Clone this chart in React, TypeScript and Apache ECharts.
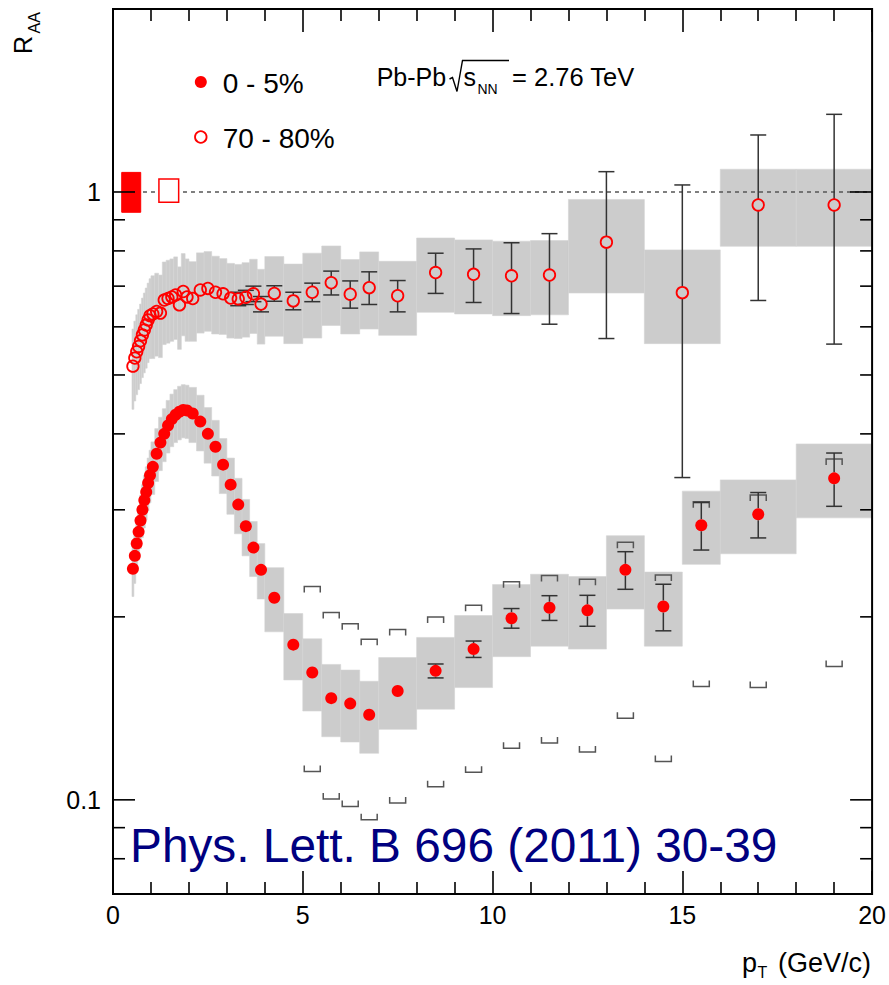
import React, { useEffect, useRef } from "react";
import * as echarts from "echarts";

const FONT = "'Liberation Sans', Arial, Helvetica, sans-serif";

// ---- 0-5% (central) ----
const ptCentral = [
  0.525, 0.575, 0.625, 0.675, 0.725, 0.775, 0.825, 0.875, 0.925, 0.975,
  1.05, 1.15, 1.25, 1.35, 1.45, 1.55, 1.65, 1.75, 1.85, 1.95,
  2.1, 2.3, 2.5, 2.7, 2.9, 3.1, 3.3, 3.5, 3.7, 3.9,
  4.25, 4.75, 5.25, 5.75, 6.25, 6.75, 7.5, 8.5, 9.5, 10.5, 11.5, 12.5, 13.5, 14.5, 15.5, 17, 19,
];
const binWidthCentral = [
  0.05, 0.05, 0.05, 0.05, 0.05, 0.05, 0.05, 0.05, 0.05, 0.05,
  0.1, 0.1, 0.1, 0.1, 0.1, 0.1, 0.1, 0.1, 0.1, 0.1,
  0.2, 0.2, 0.2, 0.2, 0.2, 0.2, 0.2, 0.2, 0.2, 0.2,
  0.5, 0.5, 0.5, 0.5, 0.5, 0.5, 1, 1, 1, 1, 1, 1, 1, 1, 1, 2, 2,
];
const raaCentral = [
  0.240, 0.252, 0.264, 0.276, 0.288, 0.300, 0.311, 0.321, 0.332, 0.342,
  0.353, 0.371, 0.387, 0.400, 0.413, 0.423, 0.430, 0.435, 0.438, 0.437,
  0.432, 0.419, 0.400, 0.381, 0.356, 0.330, 0.306, 0.282, 0.260, 0.239,
  0.215, 0.180, 0.162, 0.147, 0.144, 0.138, 0.151, 0.163, 0.177, 0.199, 0.207, 0.205, 0.239, 0.208, 0.283, 0.295, 0.338,
];
const statCentral = [
  0.002, 0.002, 0.002, 0.002, 0.002, 0.002, 0.002, 0.002, 0.002, 0.002,
  0.002, 0.002, 0.002, 0.002, 0.002, 0.002, 0.002, 0.002, 0.002, 0.002,
  0.002, 0.002, 0.002, 0.002, 0.002, 0.002, 0.002, 0.002, 0.002, 0.002,
  0.002, 0.002, 0.002, 0.002, 0.0025, 0.003, 0.003, 0.0043, 0.0055, 0.0074, 0.0097, 0.012, 0.017, 0.0183, 0.0254, 0.0253, 0.034,
];
const sysCentral = [
  0.024, 0.025, 0.026, 0.028, 0.029, 0.030, 0.031, 0.032, 0.033, 0.034,
  0.035, 0.037, 0.039, 0.040, 0.041, 0.042, 0.043, 0.044, 0.044, 0.044,
  0.045, 0.044, 0.042, 0.040, 0.037, 0.035, 0.032, 0.030, 0.027, 0.025,
  0.026, 0.0225, 0.022, 0.020, 0.0195, 0.0187, 0.0204, 0.022, 0.024, 0.027, 0.028, 0.028, 0.033, 0.029, 0.039, 0.041, 0.047,
];

// ---- 70-80% (peripheral) ----
const ptPeripheral = [
  0.525, 0.575, 0.625, 0.675, 0.725, 0.775, 0.825, 0.875, 0.925, 0.975,
  1.05, 1.15, 1.25, 1.35, 1.45, 1.55, 1.65, 1.75, 1.85, 1.95,
  2.1, 2.3, 2.5, 2.7, 2.9, 3.1, 3.3, 3.5, 3.7, 3.9,
  4.25, 4.75, 5.25, 5.75, 6.25, 6.75, 7.5, 8.5, 9.5, 10.5, 11.5, 13, 15, 17, 19,
];
const binWidthPeripheral = [
  0.05, 0.05, 0.05, 0.05, 0.05, 0.05, 0.05, 0.05, 0.05, 0.05,
  0.1, 0.1, 0.1, 0.1, 0.1, 0.1, 0.1, 0.1, 0.1, 0.1,
  0.2, 0.2, 0.2, 0.2, 0.2, 0.2, 0.2, 0.2, 0.2, 0.2,
  0.5, 0.5, 0.5, 0.5, 0.5, 0.5, 1, 1, 1, 1, 1, 2, 2, 2, 2,
];
const raaPeripheral = [
  0.517, 0.533, 0.546, 0.557, 0.569, 0.582, 0.593, 0.604, 0.616, 0.626,
  0.630, 0.636, 0.632, 0.664, 0.668, 0.672, 0.677, 0.652, 0.686, 0.672,
  0.668, 0.690, 0.694, 0.684, 0.680, 0.669, 0.667, 0.671, 0.680, 0.654,
  0.681, 0.662, 0.684, 0.709, 0.679, 0.696, 0.675, 0.737, 0.732, 0.728, 0.730, 0.827, 0.683, 0.952, 0.952,
];
const statPeripheral = [
  0.004, 0.004, 0.004, 0.004, 0.004, 0.004, 0.004, 0.004, 0.004, 0.004,
  0.005, 0.005, 0.005, 0.005, 0.005, 0.005, 0.005, 0.005, 0.005, 0.005,
  0.006, 0.006, 0.007, 0.008, 0.009, 0.016, 0.017, 0.018, 0.02, 0.019,
  0.02, 0.022, 0.024, 0.032, 0.035, 0.043, 0.040, 0.056, 0.074, 0.097, 0.124, 0.253, 0.344, 0.289, 0.39,
];
const sysPeripheral = [
  0.078, 0.080, 0.082, 0.084, 0.085, 0.087, 0.089, 0.091, 0.092, 0.094,
  0.098, 0.099, 0.098, 0.103, 0.104, 0.104, 0.105, 0.101, 0.106, 0.104,
  0.100, 0.104, 0.104, 0.100, 0.097, 0.094, 0.093, 0.094, 0.095, 0.092,
  0.102, 0.099, 0.109, 0.106, 0.095, 0.101, 0.094, 0.103, 0.102, 0.102, 0.102, 0.145, 0.120, 0.138, 0.138,
];

// ---- brackets (0-5%, upper / lower limits) ----
const bracketPt = [5.25, 5.75, 6.25, 6.75, 7.5, 8.5, 9.5, 10.5, 11.5, 12.5, 13.5, 14.5, 15.5, 17, 19];
const bracketHigh = [0.2243, 0.2033, 0.1948, 0.1837, 0.1907, 0.1998, 0.209, 0.2284, 0.2339, 0.2307, 0.2653, 0.2344, 0.3094, 0.3173, 0.3638];
const bracketLow = [0.1113, 0.1003, 0.0975, 0.0927, 0.0988, 0.1051, 0.111, 0.1216, 0.124, 0.1199, 0.1362, 0.1156, 0.1536, 0.153, 0.1657];

// ---- normalisation boxes at R_AA = 1 ----
const normCenter = [0.48, 1.47];
const normHalfWidth = [0.25, 0.26];
const normLow = [0.926, 0.962];
const normHigh = [1.077, 1.05];
const normFilled = [1, 0];

// ---- reference line ----
const refLineFrom = 0.79;
const refLineTo = 20;
const refLineValue = 1;

// ---- axis ticks ----
const yMajorTicks = [0.1, 1];
const yTickLabels = ["0.1", "1"];
const yMinorTicks = [0.08, 0.09, 0.2, 0.3, 0.4, 0.5, 0.6, 0.7, 0.8, 0.9];

const MARKER_R = 6;
const RED = "#ff0000";

const boxRender = (params: any, api: any) => {
  const x = api.value(0), w = api.value(1), y = api.value(2), s = api.value(3);
  const a = api.coord([x - w / 2, y + s]);
  const b = api.coord([x + w / 2, y - s]);
  return {
    type: "rect",
    shape: { x: a[0], y: a[1], width: b[0] - a[0], height: b[1] - a[1] },
    style: { fill: "#cccccc", stroke: "#d4d4d4", lineWidth: 0.6 },
  };
};

const errRender = (params: any, api: any) => {
  const x = api.value(0), y = api.value(1), e = api.value(2);
  const c = api.coord([x, y]);
  const t = api.coord([x, y + e]);
  const b = api.coord([x, y - e]);
  const st = { stroke: "#333333", lineWidth: 1.5 };
  const cap = 8;
  const children: any[] = [];
  if (c[1] - t[1] > MARKER_R + 0.5) {
    children.push({ type: "line", shape: { x1: c[0], y1: t[1], x2: c[0], y2: c[1] - MARKER_R }, style: st });
    children.push({ type: "line", shape: { x1: c[0] - cap, y1: t[1], x2: c[0] + cap, y2: t[1] }, style: st });
  }
  if (b[1] - c[1] > MARKER_R + 0.5) {
    children.push({ type: "line", shape: { x1: c[0], y1: c[1] + MARKER_R, x2: c[0], y2: b[1] }, style: st });
    children.push({ type: "line", shape: { x1: c[0] - cap, y1: b[1], x2: c[0] + cap, y2: b[1] }, style: st });
  }
  return { type: "group", children };
};

const bracketRender = (params: any, api: any) => {
  const x = api.value(0), hi = api.value(1), lo = api.value(2);
  const h = api.coord([x, hi]);
  const l = api.coord([x, lo]);
  const hw = 8, leg = 6;
  const st = { stroke: "#555555", lineWidth: 1.5, fill: "none" };
  return {
    type: "group",
    children: [
      { type: "polyline", shape: { points: [[h[0] - hw, h[1] + leg], [h[0] - hw, h[1]], [h[0] + hw, h[1]], [h[0] + hw, h[1] + leg]] }, style: st },
      { type: "polyline", shape: { points: [[l[0] - hw, l[1] - leg], [l[0] - hw, l[1]], [l[0] + hw, l[1]], [l[0] + hw, l[1] - leg]] }, style: st },
    ],
  };
};

const normRender = (params: any, api: any) => {
  const c = api.value(0), hw = api.value(1), lo = api.value(2), hi = api.value(3), filled = api.value(4);
  const a = api.coord([c - hw, hi]);
  const b = api.coord([c + hw, lo]);
  return {
    type: "rect",
    shape: { x: a[0], y: a[1], width: b[0] - a[0], height: b[1] - a[1] },
    style: filled ? { fill: RED, stroke: RED, lineWidth: 1 } : { fill: "#ffffff", stroke: RED, lineWidth: 1.5 },
  };
};

const refLineRender = (params: any, api: any) => {
  const a = api.coord([api.value(0), api.value(2)]);
  const b = api.coord([api.value(1), api.value(2)]);
  return {
    type: "line",
    shape: { x1: a[0], y1: a[1], x2: b[0], y2: b[1] },
    style: { stroke: "#555555", lineWidth: 1.5, lineDash: [4, 4] },
  };
};

const tickRender = (params: any, api: any) => {
  const v = api.value(1), major = api.value(2);
  const cs = params.coordSys;
  const p = api.coord([0, v]);
  const len = major ? 22 : 12;
  const st = { stroke: "#000", lineWidth: 1.6 };
  return {
    type: "group",
    children: [
      { type: "line", shape: { x1: cs.x, y1: p[1], x2: cs.x + len, y2: p[1] }, style: st },
      { type: "line", shape: { x1: cs.x + cs.width, y1: p[1], x2: cs.x + cs.width - len, y2: p[1] }, style: st },
    ],
  };
};

const labelRender = (params: any, api: any) => {
  const v = api.value(1), idx = api.value(2);
  const cs = params.coordSys;
  const p = api.coord([0, v]);
  return {
    type: "text",
    x: cs.x - 12,
    y: p[1],
    style: { text: yTickLabels[idx], align: "right", verticalAlign: "middle", fontSize: 25, fontFamily: FONT, fill: "#000" },
  };
};

const frameRender = (params: any, api: any) => {
  const cs = params.coordSys;
  return {
    type: "rect",
    shape: { x: cs.x, y: cs.y, width: cs.width, height: cs.height },
    style: { fill: "none", stroke: "#000", lineWidth: 2 },
  };
};

const txt = (text: string, x: number, y: number, size: number, extra: any = {}) => ({
  type: "text",
  x,
  y,
  ...extra,
  style: { text, fontSize: size, fontFamily: FONT, fill: extra.fill || "#000", align: "left", verticalAlign: "middle" },
});

export default function App() {
  const ref = useRef<HTMLDivElement>(null);
  useEffect(() => {
    const chart = echarts.init(ref.current!, null, { renderer: "svg" });
    const axisCommon = {
      type: "value",
      min: 0,
      max: 20,
      interval: 5,
      axisLine: { show: false },
      axisTick: { show: true, inside: true, length: 23, lineStyle: { color: "#000", width: 1.6 } },
      minorTick: { show: true, splitNumber: 5, length: 12, lineStyle: { color: "#000", width: 1.6 } },
      splitLine: { show: false },
      minorSplitLine: { show: false },
    };
    const option: any = {
      animation: false,
      backgroundColor: "#ffffff",
      grid: { left: 113, right: 16, top: 9, bottom: 91, show: false },
      xAxis: [
        {
          ...axisCommon,
          position: "bottom",
          axisLabel: { show: true, fontSize: 25, fontFamily: FONT, color: "#000", margin: 8 },
        },
        { ...axisCommon, position: "top", axisLabel: { show: false } },
      ],
      yAxis: {
        type: "log",
        logBase: 10,
        min: 0.07,
        max: 2,
        axisLine: { show: false },
        axisTick: { show: false },
        minorTick: { show: false },
        axisLabel: { show: false },
        splitLine: { show: false },
      },
      series: [
        {
          type: "custom",
          name: "sys 70-80%",
          renderItem: boxRender,
          encode: { x: 0, y: 2 },
          data: ptPeripheral.map((p, i) => [p, binWidthPeripheral[i], raaPeripheral[i], sysPeripheral[i]]),
        },
        {
          type: "custom",
          name: "sys 0-5%",
          renderItem: boxRender,
          encode: { x: 0, y: 2 },
          data: ptCentral.map((p, i) => [p, binWidthCentral[i], raaCentral[i], sysCentral[i]]),
        },
        {
          type: "custom",
          name: "ref",
          renderItem: refLineRender,
          encode: { x: 0, y: 2 },
          data: [[refLineFrom, refLineTo, refLineValue]],
        },
        {
          type: "custom",
          name: "norm",
          renderItem: normRender,
          encode: { x: 0, y: 2 },
          data: normCenter.map((c, i) => [c, normHalfWidth[i], normLow[i], normHigh[i], normFilled[i]]),
        },
        {
          type: "custom",
          name: "brackets",
          renderItem: bracketRender,
          encode: { x: 0, y: 1 },
          data: bracketPt.map((p, i) => [p, bracketHigh[i], bracketLow[i]]),
        },
        {
          type: "custom",
          name: "stat 70-80%",
          renderItem: errRender,
          encode: { x: 0, y: 1 },
          data: ptPeripheral.map((p, i) => [p, raaPeripheral[i], statPeripheral[i]]),
        },
        {
          type: "custom",
          name: "stat 0-5%",
          renderItem: errRender,
          encode: { x: 0, y: 1 },
          data: ptCentral.map((p, i) => [p, raaCentral[i], statCentral[i]]),
        },
        {
          type: "scatter",
          name: "70 - 80%",
          symbol: "circle",
          symbolSize: 11.5,
          itemStyle: { color: "rgba(255,255,255,0)", borderColor: RED, borderWidth: 1.8, opacity: 1 },
          data: ptPeripheral.map((p, i) => [p, raaPeripheral[i]]),
        },
        {
          type: "scatter",
          name: "0 - 5%",
          symbol: "circle",
          symbolSize: 12,
          itemStyle: { color: RED, opacity: 1 },
          data: ptCentral.map((p, i) => [p, raaCentral[i]]),
        },
        {
          type: "custom",
          name: "yticks",
          renderItem: tickRender,
          encode: { x: 0, y: 1 },
          data: [...yMajorTicks.map((v) => [0, v, 1]), ...yMinorTicks.map((v) => [0, v, 0])],
        },
        {
          type: "custom",
          name: "ylabels",
          renderItem: labelRender,
          encode: { x: 0, y: 1 },
          data: yMajorTicks.map((v, i) => [0, v, i]),
        },
        {
          type: "custom",
          name: "frame",
          renderItem: frameRender,
          encode: { x: 0, y: 1 },
          data: [[0, 1]],
        },
      ],
      graphic: [
        { type: "circle", shape: { cx: 200.8, cy: 82, r: 6 }, style: { fill: RED } },
        { type: "circle", shape: { cx: 200.8, cy: 137, r: 5.8 }, style: { fill: "none", stroke: RED, lineWidth: 1.8 } },
        txt("0 - 5%", 222.7, 83.5, 28),
        txt("70 - 80%", 222.7, 138.5, 28),
        txt("Pb-Pb", 376.7, 76.5, 25),
        {
          type: "polyline",
          shape: { points: [[449.5, 79], [452.5, 77.5], [457, 91.5], [462.5, 60.5], [509, 60.5]] },
          style: { stroke: "#000", lineWidth: 1.4, fill: "none" },
        },
        txt("s", 463.5, 76.5, 25),
        txt("NN", 477.5, 88.5, 14),
        txt("= 2.76 TeV", 512, 76.5, 25.5),
        txt("R", 23, 54, 25, { rotation: Math.PI / 2 }),
        txt("AA", 34.5, 33.5, 16, { rotation: Math.PI / 2 }),
        txt("p", 742, 963, 27),
        txt("T", 757.5, 972, 16),
        txt("(GeV/c)", 778, 963, 27),
        txt("Phys. Lett. B 696 (2011) 30-39", 130, 845, 47.8, { fill: "#000080" }),
      ],
    };
    chart.setOption(option);
    return () => chart.dispose();
  }, []);
  return <div ref={ref} style={{ position: "fixed", left: 0, top: 0, width: 889, height: 985 }} />;
}
